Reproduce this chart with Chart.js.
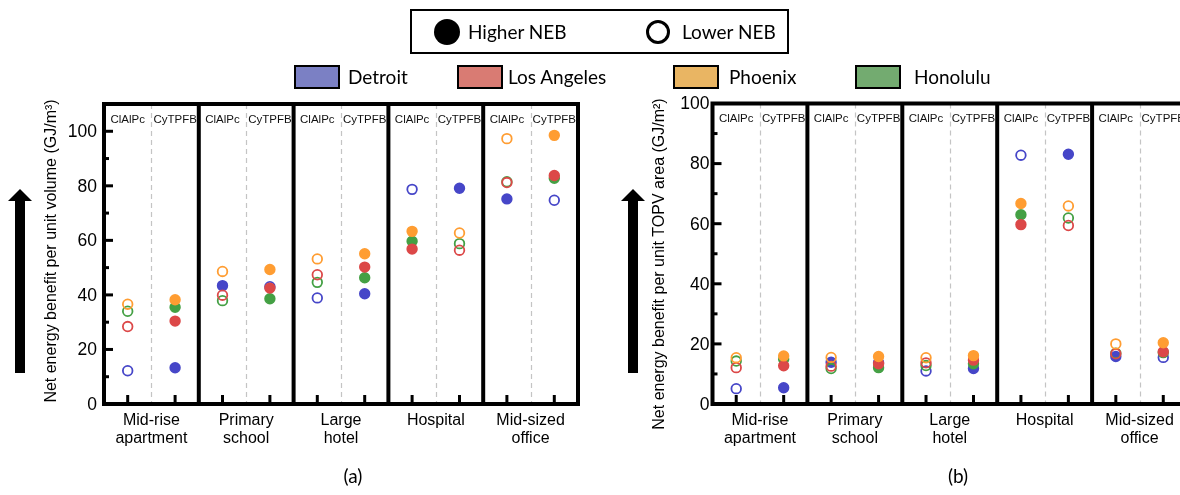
<!DOCTYPE html>
<html>
<head>
<meta charset="utf-8">
<script src="https://cdn.jsdelivr.net/npm/chart.js"></script>
<style>
  html, body { margin: 0; padding: 0; background: #fff; width: 1180px; height: 495px; overflow: hidden; }
  #wrap { position: relative; width: 1180px; height: 495px; }
  canvas { position: absolute; top: 0; }
  #volChart { left: 0; }
  #areaChart { left: 600px; }
  .leg { position: absolute; font-family: Lato, "Open Sans", sans-serif; font-size: 19px; color: #000; line-height: 24px; white-space: nowrap; }
  .box { position: absolute; left: 410px; top: 9px; width: 375px; height: 41px; border: 2px solid #000; }
  .dot { position: absolute; box-sizing: border-box; border-radius: 50%; }
  .sw { position: absolute; box-sizing: border-box; width: 46px; height: 24px; border: 2.5px solid #000; top: 65px; }
</style>
</head>
<body>
<div id="wrap">
  <canvas id="volChart" width="600" height="495"></canvas>
  <canvas id="areaChart" width="600" height="495"></canvas>
  <div id="legend"></div>
</div>
<script>
// building types and the two materials inside each panel
const buildingLabels = [['Mid-rise', 'apartment'], ['Primary', 'school'], ['Large', 'hotel'], ['Hospital'], ['Mid-sized', 'office']];
const materials = ['ClAlPc', 'CyTPFB'];
const cities = ['Detroit', 'Los Angeles', 'Phoenix', 'Honolulu'];
const cityColors = ['#4646c8', '#dc4848', '#ff9d32', '#44a044'];
const swatchColors = ['#7b80c4', '#d97b73', '#e9b563', '#73ab70'];
const markerLegend = ['Higher NEB', 'Lower NEB'];
const yTicks = [0, 20, 40, 60, 80, 100];
const yMinorTicks = [10, 30, 50, 70, 90];

// (a) net energy benefit per unit volume, GJ/m3
// order: [bldg1 ClAlPc, bldg1 CyTPFB, bldg2 ClAlPc, bldg2 CyTPFB, ...]
const detroitVol   = [12.2, 13.3, 43.4, 43.0, 38.9, 40.4, 78.7, 79.1, 75.2, 74.7];
const laVol        = [28.4, 30.4, 39.9, 42.5, 47.4, 50.2, 56.8, 56.4, 81.2, 83.8];
const phoenixVol   = [36.6, 38.2, 48.6, 49.3, 53.2, 55.1, 63.3, 62.7, 97.3, 98.5];
const honoluluVol  = [34.0, 35.5, 37.9, 38.6, 44.6, 46.3, 59.7, 58.8, 81.5, 82.8];

// (b) net energy benefit per unit TOPV area, GJ/m2
const detroitArea  = [5.1, 5.4, 13.9, 13.7, 11.0, 11.8, 82.8, 83.1, 15.8, 15.5];
const laArea       = [12.1, 12.7, 12.6, 13.4, 13.7, 14.6, 59.7, 59.4, 16.7, 17.4];
const phoenixArea  = [15.4, 16.0, 15.5, 15.8, 15.4, 16.1, 66.7, 65.9, 20.0, 20.4];
const honoluluArea = [14.3, 14.9, 11.8, 12.1, 12.8, 13.4, 63.0, 61.9, 16.9, 17.1];

const sansFont = 'Arial, "Liberation Sans", sans-serif';

// filled marker = the material with the higher NEB for that city/building
function cityDataset(ci, vals, order) {
  const color = cityColors[ci];
  return {
    label: cities[ci],
    data: vals.map((v, k) => ({ x: k + 0.5, y: v })),
    order: order,
    showLine: false,
    pointRadius: 4.8,
    pointHoverRadius: 4.8,
    pointBorderWidth: 1.8,
    pointBorderColor: color,
    pointBackgroundColor: vals.map((v, k) => v >= vals[k % 2 === 0 ? k + 1 : k - 1] ? color : 'rgba(255,255,255,0)')
  };
}

const panelFrame = {
  id: 'panelFrame',
  beforeDatasetsDraw(chart, args, o) {
    const { ctx, chartArea: a, scales: { x } } = chart;
    ctx.save();
    ctx.strokeStyle = '#c4c4c4';
    ctx.lineWidth = 1.2;
    ctx.setLineDash([5, 4]);
    buildingLabels.forEach((b, i) => {
      const px = Math.round(x.getPixelForValue(2 * i + 1)) + 0.5;
      ctx.beginPath(); ctx.moveTo(px, a.top); ctx.lineTo(px, a.bottom); ctx.stroke();
    });
    ctx.setLineDash([]);
    ctx.fillStyle = '#111';
    ctx.font = '11.5px ' + sansFont;
    ctx.textAlign = 'center';
    ctx.textBaseline = 'middle';
    for (let k = 0; k < buildingLabels.length * 2; k++) {
      ctx.fillText(materials[k % 2], x.getPixelForValue(k + 0.5), a.top + 15.5);
    }
    ctx.restore();
  },
  afterDatasetsDraw(chart, args, o) {
    const { ctx, chartArea: a, scales: { x, y } } = chart;
    ctx.save();
    ctx.strokeStyle = '#000';
    ctx.fillStyle = '#000';
    // ticks on the left axis, pointing inward
    ctx.lineWidth = 3;
    yTicks.forEach(v => {
      const py = y.getPixelForValue(v);
      if (v > 0) { ctx.beginPath(); ctx.moveTo(a.left, py); ctx.lineTo(a.left + 9, py); ctx.stroke(); }
    });
    yMinorTicks.forEach(v => {
      const py = y.getPixelForValue(v);
      ctx.beginPath(); ctx.moveTo(a.left, py); ctx.lineTo(a.left + 5, py); ctx.stroke();
    });
    // bottom ticks under each material column
    for (let k = 0; k < buildingLabels.length * 2; k++) {
      const px = x.getPixelForValue(k + 0.5);
      ctx.beginPath(); ctx.moveTo(px, a.bottom); ctx.lineTo(px, a.bottom - 9); ctx.stroke();
    }
    // frame and panel separators
    ctx.lineWidth = 4;
    ctx.strokeRect(a.left, a.top, a.right - a.left, a.bottom - a.top);
    for (let i = 1; i < buildingLabels.length; i++) {
      const px = x.getPixelForValue(2 * i);
      ctx.beginPath(); ctx.moveTo(px, a.top); ctx.lineTo(px, a.bottom); ctx.stroke();
    }
    // y tick labels
    ctx.font = '17.5px ' + sansFont;
    ctx.textAlign = 'right';
    ctx.textBaseline = 'middle';
    yTicks.forEach(v => ctx.fillText(String(v), a.left - o.labelGap, y.getPixelForValue(v) + 1));
    // building labels
    ctx.font = '16px ' + sansFont;
    ctx.textAlign = 'center';
    ctx.textBaseline = 'alphabetic';
    buildingLabels.forEach((lines, i) => {
      const px = x.getPixelForValue(2 * i + 1);
      lines.forEach((t, j) => ctx.fillText(t, px, a.bottom + 21 + j * 18));
    });
    // y title
    ctx.save();
    ctx.translate(o.titleX, o.titleY);
    ctx.rotate(-Math.PI / 2);
    ctx.font = '16px ' + sansFont;
    ctx.textBaseline = 'middle';
    ctx.fillText(o.title, 0, 0);
    ctx.restore();
    // arrow
    const ax = o.arrowX;
    ctx.fillRect(ax - 5, 200, 10, 173);
    ctx.beginPath();
    ctx.moveTo(ax - 12, 201); ctx.lineTo(ax + 12, 201); ctx.lineTo(ax, 189); ctx.closePath(); ctx.fill();
    // caption
    ctx.font = '19px Lato, sans-serif';
    ctx.fillText(o.caption, o.captionX, 483);
    ctx.restore();
  }
};

function makeChart(id, valsList, yMax, pad, deco) {
  const drawOrder = [3, 1, 0, 2]; // Phoenix on top, Detroit at the bottom
  return new Chart(document.getElementById(id), {
    type: 'scatter',
    data: { datasets: valsList.map((vals, ci) => cityDataset(ci, vals, drawOrder[ci])) },
    options: {
      responsive: false,
      animation: false,
      layout: { padding: pad },
      scales: {
        x: { type: 'linear', min: 0, max: 10, display: false },
        y: { min: 0, max: yMax, display: false }
      },
      plugins: { legend: { display: false }, tooltip: { enabled: false }, panelFrame: deco }
    },
    plugins: [panelFrame]
  });
}

makeChart('volChart', [detroitVol, laVol, phoenixVol, honoluluVol], 110,
  { left: 104, right: 22, top: 104, bottom: 91 },
  { title: 'Net energy benefit per unit volume (GJ/m\u00B3)', labelGap: 7, titleX: 52, titleY: 251, arrowX: 20, caption: '(a)', captionX: 353 });

makeChart('areaChart', [detroitArea, laArea, phoenixArea, honoluluArea], 100,
  { left: 112.5, right: 13, top: 103.5, bottom: 91 },
  { title: 'Net energy benefit per unit TOPV area (GJ/m\u00B2)', labelGap: 3, titleX: 60, titleY: 264, arrowX: 33, caption: '(b)', captionX: 358 });

// legend (HTML, drawn from the arrays above)
const leg = document.getElementById('legend');
let html = '<div class="box"></div>';
html += '<div class="dot" style="left:434px;top:19px;width:26px;height:26px;background:#000"></div>';
html += '<div class="leg" style="left:468px;top:20px">' + markerLegend[0] + '</div>';
html += '<div class="dot" style="left:646px;top:20px;width:24px;height:24px;border:3px solid #000"></div>';
html += '<div class="leg" style="left:682px;top:20px">' + markerLegend[1] + '</div>';
const swLeft = [294, 457, 673, 855];
const txtLeft = [348, 508, 729, 914];
cities.forEach((c, i) => {
  html += '<div class="sw" style="left:' + swLeft[i] + 'px;background:' + swatchColors[i] + '"></div>';
  html += '<div class="leg" style="left:' + txtLeft[i] + 'px;top:65px">' + c + '</div>';
});
leg.innerHTML = html;
</script>
</body>
</html>
